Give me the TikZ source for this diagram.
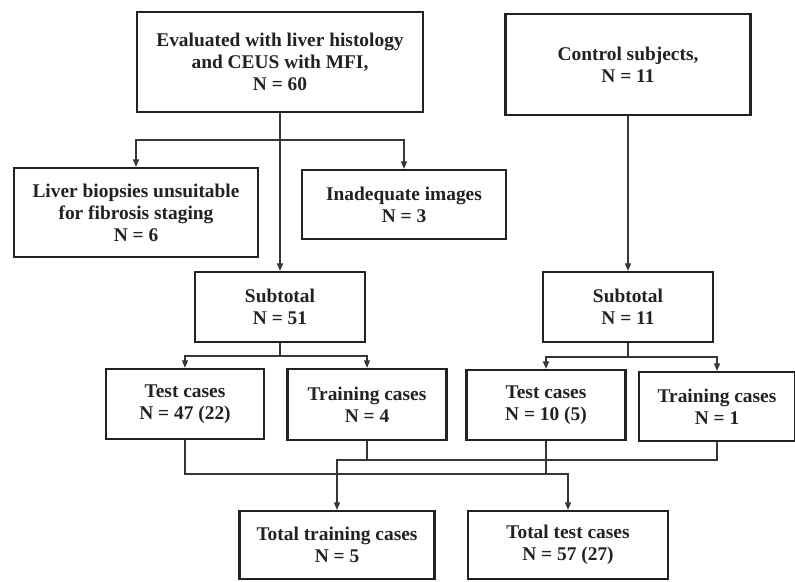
\documentclass[tikz,border=0pt]{standalone}
\usepackage{fontspec}
\setmainfont{Liberation Serif}
\usepackage{xcolor}
\usepackage{tikz}
\usetikzlibrary{
  arrows.meta
}
\definecolor{flowInk}{HTML}{222222}
\definecolor{flowLine}{HTML}{363636}

\begin{document}
\begin{tikzpicture}[
  x=1pt, y=-1pt,
  font=\bfseries\fontsize{19.4}{22}\selectfont,
  box/.style={
    draw=flowInk,
    line width=2.2pt,
    fill=white,
    text=flowInk,
    align=center,
    inner sep=0pt
  },
  arrow/.style={
    -{Triangle[length=7.5pt,width=6pt]},
    line width=1.3pt,
    draw=flowLine
  },
  link/.style={line width=1.3pt, draw=flowLine}
]
\useasboundingbox (0,0) rectangle (795,581);

% Patients and controls
\node[box, minimum width=286pt, minimum height=100pt] (eval) at (280,62)
  {Evaluated with liver histology\\and CEUS with MFI,\\N = 60};
\node[box, minimum width=245pt, minimum height=101pt] (ctrl) at (628,64.5)
  {Control subjects,\\N = 11};

\node[box, minimum width=244pt, minimum height=89pt] (biopsy) at (136,212.5)
  {Liver biopsies unsuitable\\for fibrosis staging\\N = 6};
\node[box, minimum width=204pt, minimum height=69pt] (inad) at (404,204.5)
  {Inadequate images\\N = 3};

\node[box, minimum width=170pt, minimum height=70pt] (subA) at (280,307)
  {Subtotal\\N = 51};
\node[box, minimum width=170pt, minimum height=70pt] (subB) at (628,307)
  {Subtotal\\N = 11};

\node[box, minimum width=158pt, minimum height=70pt] (testA) at (185,404)
  {Test cases\\N = 47 (22)};
\node[box, minimum width=159pt, minimum height=71pt] (trainA) at (367,404.5)
  {Training cases\\N = 4};
\node[box, minimum width=159pt, minimum height=70pt] (testB) at (546,405)
  {Test cases\\N = 10 (5)};
\node[box, minimum width=156pt, minimum height=69pt] (trainB) at (717,406.5)
  {Training cases\\N = 1};

\node[box, minimum width=195pt, minimum height=68pt] (totTrain) at (337,545)
  {Total training cases\\N = 5};
\node[box, minimum width=200pt, minimum height=68pt] (totTest) at (568,545)
  {Total test cases\\N = 57 (27)};

\coordinate (splitA) at (280,140);
\coordinate (splitB) at (280,356);
\coordinate (splitC) at (628,357);
\coordinate (joinTrain) at (337,460);
\coordinate (joinTest) at (568,474);

\draw[arrow] (eval.south) -- (subA.north);
\draw[arrow] (splitA) -| (biopsy.north);
\draw[arrow] (splitA) -| (inad.north);
\draw[arrow] (ctrl.south) -- (subB.north);

\draw[link] (subA.south) -- (splitB);
\draw[arrow] (splitB) -| (testA.north);
\draw[arrow] (splitB) -| (trainA.north);
\draw[link] (subB.south) -- (splitC);
\draw[arrow] (splitC) -| (testB.north);
\draw[arrow] (splitC) -| (trainB.north);

\draw[arrow] (testA.south) |- (joinTest) -- (totTest.north);
\draw[link] (testB.south) -- (testB.south |- joinTest);
\draw[arrow] (trainA.south) |- (joinTrain) -- (totTrain.north);
\draw[link] (trainB.south) |- (joinTrain);

\end{tikzpicture}
\end{document}
